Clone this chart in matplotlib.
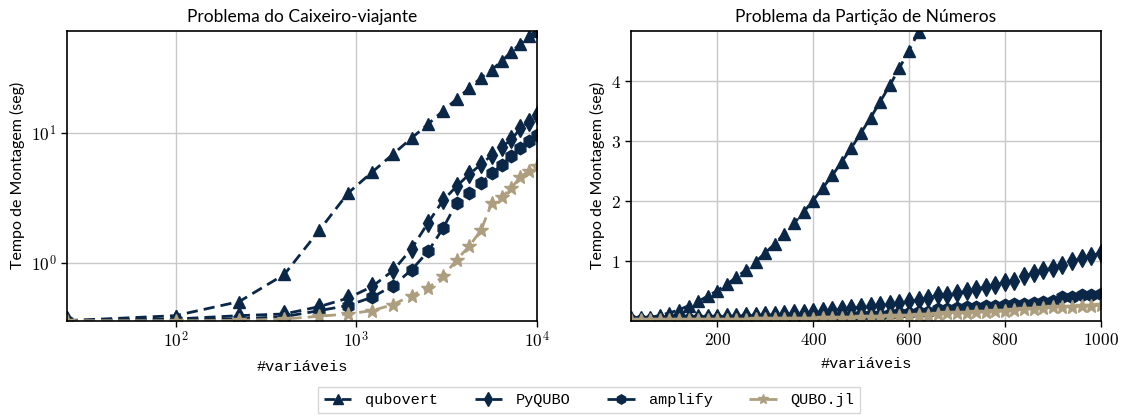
import matplotlib
matplotlib.use("Agg")
import matplotlib.pyplot as plt
import numpy as np
from matplotlib.ticker import FuncFormatter, NullLocator

plt.rcParams['mathtext.fontset'] = 'cm'

# ---------------- data ----------------
labels = ["qubovert", "PyQUBO", "amplify", "QUBO.jl"]

tsp_x = [25, 100, 225, 400, 625, 900, 1225, 1600, 2025, 2500, 3025, 3600,
         4225, 4900, 5625, 6400, 7225, 8100, 9025, 10000]
tsp_qubovert = [0.363, 0.397, 0.509, 0.823, 1.80, 3.47, 5.04, 6.93, 9.2, 11.8,
                14.9, 18.4, 22.3, 26.7, 30.8, 36.1, 42.4, 48.8, 56.3, 61.5]
tsp_pyqubo = [0.365, 0.374, 0.397, 0.409, 0.466, 0.541, 0.665, 0.883, 1.30, 2.06,
              3.06, 3.93, 4.86, 5.77, 6.81, 7.89, 8.99, 10.9, 12.3, 13.8]
tsp_amplify = [0.364, 0.370, 0.375, 0.390, 0.434, 0.475, 0.55, 0.676, 0.893, 1.24,
               1.87, 2.94, 3.49, 4.17, 4.92, 5.70, 6.73, 7.66, 8.78, 9.71]
tsp_qubojl = [0.363, 0.363, 0.365, 0.374, 0.393, 0.409, 0.434, 0.483, 0.567, 0.649,
              0.794, 1.07, 1.36, 1.80, 2.92, 3.25, 3.81, 4.63, 5.13, 5.60]

npp_x = list(range(20, 1001, 20))
npp_qubovert = [0.01, 0.03, 0.05, 0.09, 0.13, 0.18, 0.25, 0.32, 0.41, 0.50,
                0.61, 0.72, 0.85, 0.98, 1.13, 1.28, 1.45, 1.62, 1.81, 2.00,
                2.21, 2.42, 2.65, 2.88, 3.13, 3.38, 3.65, 3.92, 4.21, 4.50,
                4.81, 5.12, 5.45, 5.78, 6.13, 6.48, 6.85, 7.22, 7.61, 8.00,
                8.41, 8.82, 9.25, 9.68, 10.1, 10.6, 11.0, 11.5, 12.0, 12.5]
npp_pyqubo = [0.008, 0.01, 0.015, 0.02, 0.025, 0.03, 0.035, 0.04, 0.045, 0.05,
              0.055, 0.06, 0.07, 0.08, 0.09, 0.10, 0.11, 0.12, 0.13, 0.14,
              0.16, 0.17, 0.19, 0.21, 0.23, 0.25, 0.26, 0.28, 0.29, 0.32,
              0.35, 0.38, 0.42, 0.43, 0.46, 0.49, 0.53, 0.56, 0.60, 0.64,
              0.66, 0.75, 0.79, 0.84, 0.88, 0.93, 0.99, 1.04, 1.08, 1.13]
npp_amplify = [0.012, 0.014, 0.016, 0.018, 0.02, 0.022, 0.024, 0.026, 0.028, 0.03,
               0.032, 0.035, 0.038, 0.041, 0.044, 0.047, 0.05, 0.055, 0.06, 0.065,
               0.07, 0.075, 0.08, 0.085, 0.09, 0.095, 0.10, 0.11, 0.12, 0.13,
               0.14, 0.15, 0.19, 0.20, 0.21, 0.22, 0.23, 0.24, 0.25, 0.26,
               0.27, 0.28, 0.29, 0.31, 0.32, 0.39, 0.40, 0.42, 0.43, 0.45]
npp_qubojl = [0.008, 0.009, 0.01, 0.011, 0.012, 0.013, 0.014, 0.015, 0.015, 0.015,
              0.016, 0.017, 0.019, 0.021, 0.023, 0.025, 0.027, 0.03, 0.032, 0.035,
              0.038, 0.042, 0.046, 0.05, 0.055, 0.06, 0.065, 0.07, 0.075, 0.08,
              0.09, 0.10, 0.11, 0.12, 0.125, 0.13, 0.14, 0.15, 0.155, 0.16,
              0.17, 0.195, 0.20, 0.21, 0.22, 0.23, 0.235, 0.24, 0.25, 0.26]

# ---------------- style ----------------
NAVY = '#0b2747'
TAN = '#ad9e7f'
colors = [NAVY, NAVY, NAVY, TAN]
markers = ['^', 'd', 'h', '*']
sizes = [9, 9, 9, 10]
SANS = 'Lato'
MONO = 'Liberation Mono'

fig = plt.figure(figsize=(11.21, 4.16), dpi=100)
W, H = 1121, 416
ax1 = fig.add_axes([66.7 / W, 1 - 320.7 / H, (537 - 66.7) / W, (320.7 - 30.7) / H])
ax2 = fig.add_axes([631 / W, 1 - 320.7 / H, (1100.7 - 631) / W, (320.7 - 30.7) / H])

tsp_series = [tsp_qubovert, tsp_pyqubo, tsp_amplify, tsp_qubojl]
npp_series = [npp_qubovert, npp_pyqubo, npp_amplify, npp_qubojl]

handles = []
for ys, c, m, s, lab in zip(tsp_series, colors, markers, sizes, labels):
    h, = ax1.plot(tsp_x, ys, linestyle='--', color=c, marker=m, markersize=s,
                  linewidth=2, label=lab, dashes=(4, 2.2))
    handles.append(h)
for ys, c, m, s, lab in zip(npp_series, colors, markers, sizes, labels):
    ax2.plot(npp_x, ys, linestyle='--', color=c, marker=m, markersize=s,
             linewidth=2, label=lab, dashes=(4, 2.2))

ax1.set_xscale('log')
ax1.set_yscale('log')
ax1.set_xlim(25, 10000)
ax1.set_ylim(0.363, 61.5)
ax1.set_xticks([100, 1000, 10000])
ax1.set_yticks([1, 10])
ax1.xaxis.set_minor_locator(NullLocator())
ax1.yaxis.set_minor_locator(NullLocator())
logfmt = FuncFormatter(lambda v, p: r'$10^{%d}$' % int(round(np.log10(v))))
ax1.xaxis.set_major_formatter(logfmt)
ax1.yaxis.set_major_formatter(logfmt)

ax2.set_xlim(20, 1000)
ax2.set_ylim(0.0, 4.83)
ax2.set_xticks([200, 400, 600, 800, 1000])
ax2.set_yticks([1, 2, 3, 4])
ax2.xaxis.set_major_formatter(FuncFormatter(lambda v, p: r'$%d$' % v))
ax2.yaxis.set_major_formatter(FuncFormatter(lambda v, p: r'$%d$' % v))

for ax, title in [(ax1, 'Problema do Caixeiro-viajante'),
                  (ax2, 'Problema da Partição de Números')]:
    ax.grid(True, color='#c8c8c8', linewidth=1.0)
    ax.set_axisbelow(True)
    ax.set_title(title, fontsize=12.5, family=SANS, pad=6)
    ax.set_xlabel('#variáveis', fontsize=11, family=MONO, labelpad=6)
    ax.set_ylabel('Tempo de Montagem (seg)', fontsize=11.5, family=SANS, labelpad=4)
    ax.tick_params(labelsize=12.5, length=4, width=1)
    for sp in ax.spines.values():
        sp.set_linewidth(1.2)

leg = fig.legend(handles=handles, loc='center', ncol=4,
                 bbox_to_anchor=(589 / W, 1 - 400 / H),
                 prop={'family': MONO, 'size': 11}, frameon=True,
                 handlelength=1.8, columnspacing=2.4, handletextpad=0.9,
                 markerscale=0.75, fancybox=False)
leg.get_frame().set_edgecolor('#cccccc')

fig.savefig('out.png', dpi=100)
